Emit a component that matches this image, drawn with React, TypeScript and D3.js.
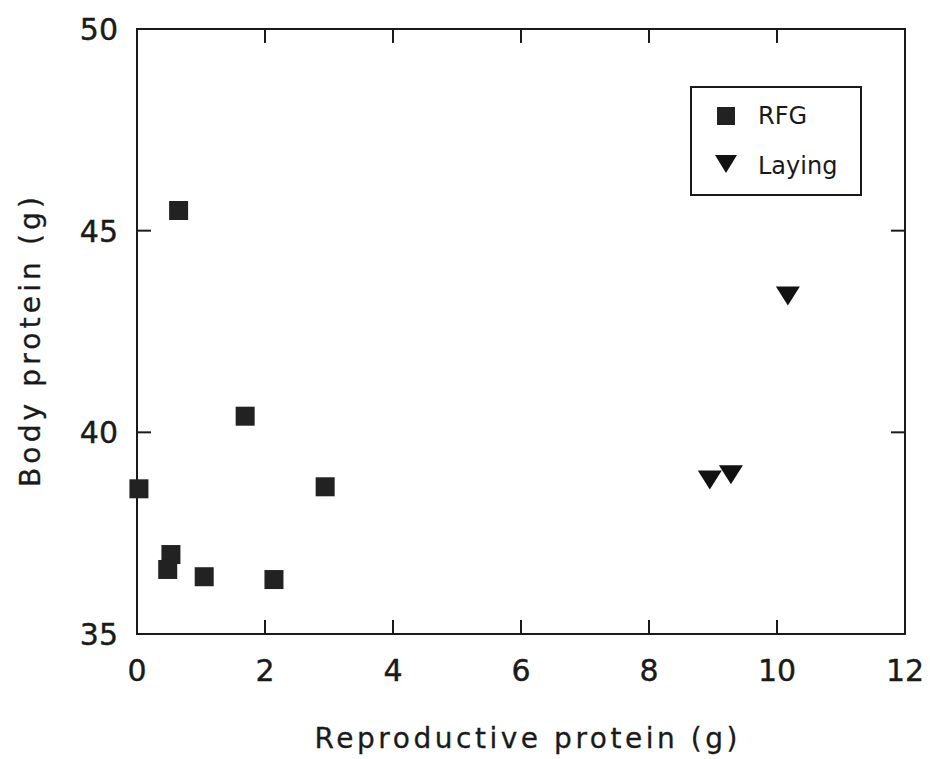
import React from "react";
import * as d3 from "d3";

const rfgX = [0.65, 0.03, 1.69, 2.94, 0.53, 0.48, 1.05, 2.14];
const rfgY = [45.5, 38.6, 40.4, 38.65, 36.97, 36.6, 36.42, 36.35];
const layingX = [8.95, 9.28, 10.17];
const layingY = [38.82, 38.95, 43.38];
const xTicks = [0, 2, 4, 6, 8, 10, 12];
const yTicks = [35, 40, 45, 50];
const legendLabels = ["RFG", "Laying"];
const xTitle = "Reproductive protein (g)";
const yTitle = "Body protein (g)";

const W = 930;
const H = 759;
const left = 137, right = 905, top = 29, bottom = 634;
const FONT = "'DejaVu Sans', 'Liberation Sans', sans-serif";
const INK = "#1a1a1a";

export default function App() {
  const x = d3.scaleLinear().domain([0, 12]).range([left, right]);
  const y = d3.scaleLinear().domain([35, 50]).range([bottom, top]);
  const sq = 19;
  const triPath = (cx: number, cy: number, w = 24, h = 19) =>
    `M${cx - w / 2},${cy - h / 2}L${cx + w / 2},${cy - h / 2}L${cx},${cy + h / 2}Z`;
  const tick = 14;

  return (
    <svg width={W} height={H} style={{ position: "absolute", left: 0, top: 0, background: "#fff" }}>
      <rect x={0} y={0} width={W} height={H} fill="#fff" />
      <rect x={left} y={top} width={right - left} height={bottom - top} fill="none" stroke={INK} strokeWidth={2} />
      {xTicks.map((t) => (
        <g key={"xt" + t}>
          {t > 0 && t < 12 && (
            <>
              <line x1={x(t)} x2={x(t)} y1={bottom} y2={bottom - tick} stroke={INK} strokeWidth={2} />
              <line x1={x(t)} x2={x(t)} y1={top} y2={top + tick} stroke={INK} strokeWidth={2} />
            </>
          )}
          <text x={x(t)} y={681} textAnchor="middle" fontFamily={FONT} fontSize={30} fill={INK}
            stroke={INK} strokeWidth={0.4}>
            {t}
          </text>
        </g>
      ))}
      {yTicks.map((t) => (
        <g key={"yt" + t}>
          {t > 35 && t < 50 && (
            <>
              <line x1={left} x2={left + tick} y1={y(t)} y2={y(t)} stroke={INK} strokeWidth={2} />
              <line x1={right} x2={right - tick} y1={y(t)} y2={y(t)} stroke={INK} strokeWidth={2} />
            </>
          )}
          <text x={118} y={y(t) + 11} textAnchor="end" fontFamily={FONT} fontSize={30} fill={INK}
            stroke={INK} strokeWidth={0.4}>
            {t}
          </text>
        </g>
      ))}
      <text x={526} y={748} textAnchor="middle" fontFamily={FONT} fontSize={28} fill={INK}
        stroke={INK} strokeWidth={0.3} textLength={423} lengthAdjust="spacing">
        {xTitle}
      </text>
      <text transform={`translate(40,342) rotate(-90)`} textAnchor="middle" fontFamily={FONT} fontSize={28} fill={INK}
        stroke={INK} strokeWidth={0.3} textLength={290} lengthAdjust="spacing">
        {yTitle}
      </text>
      {rfgX.map((v, i) => (
        <rect key={"r" + i} x={x(v) - sq / 2} y={y(rfgY[i]) - sq / 2} width={sq} height={sq} fill="#222" />
      ))}
      {layingX.map((v, i) => (
        <path key={"l" + i} d={triPath(x(v), y(layingY[i]))} fill="#111" />
      ))}
      <rect x={691} y={87} width={170} height={108} fill="#fff" stroke={INK} strokeWidth={2} />
      <rect x={726 - 9} y={116 - 9} width={18} height={18} fill="#222" />
      <path d={triPath(726, 164, 22, 18)} fill="#111" />
      <text x={758} y={124} fontFamily={FONT} fontSize={24} fill={INK}>{legendLabels[0]}</text>
      <text x={758} y={174} fontFamily={FONT} fontSize={24} fill={INK}>{legendLabels[1]}</text>
    </svg>
  );
}
